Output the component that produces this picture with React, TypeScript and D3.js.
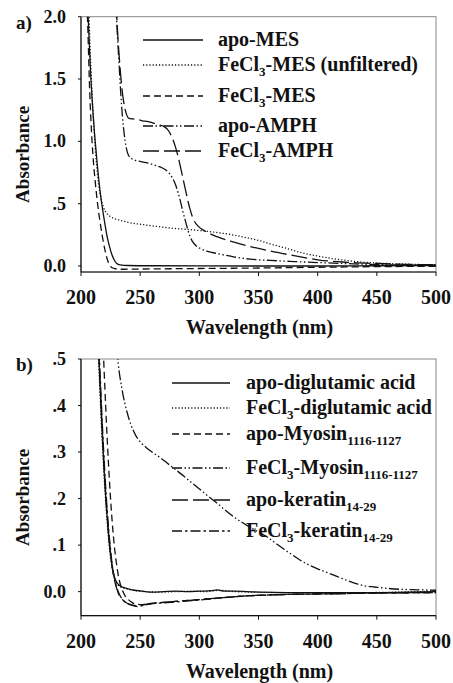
import React from "react";
import * as d3 from "d3";

// panel a) series, [wavelength nm, absorbance]
const apoMES = [[205.5,2.1],[206.5,1.9],[208,1.57],[210,1.25],[212,1.0],[214,0.79],[216,0.61],[218,0.47],[220,0.35],[222,0.24],[224,0.16],[226,0.095],[228,0.05],[230,0.022],[233,0.009],[240,0.004],[260,0.002],[300,0.001],[350,0.0],[400,0.0],[450,0.002],[500,0.004]];
const fecl3MESUnfiltered = [[206.5,2.1],[207.5,1.8],[209,1.45],[211,1.1],[213,0.83],[215,0.65],[217,0.54],[219,0.47],[222,0.42],[226,0.39],[232,0.37],[240,0.35],[250,0.335],[262,0.32],[275,0.305],[288,0.295],[300,0.285],[312,0.272],[325,0.255],[337,0.233],[350,0.205],[362,0.172],[375,0.138],[387,0.105],[400,0.08],[412,0.06],[425,0.044],[437,0.032],[450,0.024],[462,0.019],[475,0.015],[487,0.012],[500,0.011]];
const fecl3MES = [[205,2.1],[205.8,1.9],[207,1.5],[208.5,1.15],[210,0.9],[212,0.68],[214,0.5],[216,0.36],[218,0.24],[220,0.14],[222,0.06],[224,0.01],[226,-0.012],[229,-0.022],[235,-0.026],[250,-0.024],[275,-0.022],[300,-0.02],[350,-0.016],[400,-0.01],[450,-0.005],[500,-0.002]];
const apoAMPH = [[229.5,2.1],[230.5,1.9],[232,1.65],[233.5,1.4],[235,1.2],[236.5,1.06],[238,0.96],[240,0.89],[243,0.86],[247,0.845],[255,0.83],[262,0.81],[268,0.79],[273,0.76],[277,0.71],[280,0.65],[282,0.59],[284,0.52],[286,0.44],[288,0.37],[290,0.3],[292,0.24],[294,0.2],[297,0.165],[301,0.14],[307,0.118],[315,0.1],[330,0.072],[343,0.055],[360,0.045],[380,0.036],[400,0.028],[425,0.019],[450,0.012],[475,0.008],[500,0.006]];
const fecl3AMPH = [[229.8,2.1],[230.8,1.9],[232.3,1.68],[234,1.48],[236,1.32],[238,1.23],[240.5,1.185],[244,1.18],[248,1.175],[252,1.165],[256,1.16],[260,1.15],[265,1.135],[270,1.12],[274,1.085],[277,1.03],[280,0.95],[283,0.84],[286,0.71],[289,0.58],[292,0.46],[295,0.375],[299,0.32],[304,0.285],[315,0.235],[330,0.19],[345,0.152],[360,0.12],[375,0.092],[390,0.066],[400,0.05],[425,0.03],[450,0.02],[475,0.013],[500,0.01]];

// panel b) series
const apoDiglutamic = [[214.8,0.52],[215.8,0.46],[217,0.39],[218.5,0.31],[220,0.24],[221.5,0.18],[223,0.13],[224.5,0.09],[226,0.06],[227.5,0.04],[229,0.026],[231,0.017],[234,0.011],[237,0.008],[240,0.006],[245,0.003],[252,0.001],[260,-0.001],[270,0.0],[280,0.001],[290,0.0],[300,0.001],[310,0.002],[315,0.004],[320,0.001],[330,0.001],[340,0.0],[350,-0.001],[375,-0.002],[400,-0.002],[425,-0.002],[450,-0.002],[475,-0.001],[500,0.0]];
const fecl3Diglutamic = [[214.5,0.52],[215.5,0.46],[216.7,0.39],[218.2,0.31],[219.7,0.24],[221.2,0.18],[222.7,0.13],[224.2,0.09],[225.7,0.06],[227.2,0.04],[228.8,0.026],[230.8,0.016],[233.5,0.01],[237,0.007],[240,0.005],[246,0.002],[255,0.0],[265,-0.001],[280,0.0],[295,0.001],[305,0.0],[318,0.003],[330,0.0],[345,-0.001],[370,-0.002],[400,-0.002],[440,-0.002],[470,-0.001],[500,0.001]];
const apoMyosin = [[218.8,0.52],[219.8,0.46],[221,0.39],[222.5,0.31],[224,0.24],[225.5,0.18],[227,0.13],[228.5,0.09],[230,0.06],[231.5,0.035],[233,0.018],[235,0.003],[237,-0.008],[240,-0.017],[243,-0.023],[247,-0.027],[251,-0.028],[256,-0.026],[265,-0.024],[280,-0.021],[300,-0.017],[325,-0.012],[350,-0.008],[375,-0.006],[400,-0.005],[450,-0.003],[500,-0.002]];
const fecl3Myosin = [[230.5,0.52],[231.5,0.49],[233,0.46],[235,0.43],[237,0.405],[239,0.385],[242,0.36],[246,0.337],[250,0.322],[255,0.31],[260,0.3],[267,0.288],[273,0.276],[280,0.262],[287,0.248],[294,0.233],[301,0.219],[308,0.204],[315,0.19],[322,0.175],[329,0.161],[336,0.149],[343,0.138],[350,0.128],[357,0.118],[364,0.105],[371,0.092],[378,0.08],[385,0.068],[392,0.058],[399,0.05],[406,0.043],[413,0.036],[420,0.029],[427,0.022],[434,0.016],[441,0.012],[448,0.01],[455,0.008],[470,0.005],[485,0.004],[500,0.003]];
const apoKeratin = [[215,0.52],[216,0.46],[217.2,0.39],[218.7,0.31],[220.2,0.24],[221.7,0.18],[223.2,0.13],[224.7,0.09],[226.2,0.055],[228,0.028],[230,0.008],[232,-0.006],[235,-0.017],[239,-0.025],[244,-0.029],[248,-0.031],[252,-0.029],[258,-0.026],[270,-0.023],[285,-0.02],[300,-0.017],[320,-0.013],[340,-0.009],[360,-0.007],[400,-0.005],[450,-0.003],[500,-0.002]];
const fecl3Keratin = [[215.3,0.52],[216.3,0.46],[217.5,0.39],[219,0.31],[220.5,0.24],[222,0.18],[223.5,0.13],[225,0.09],[226.5,0.055],[228.3,0.028],[230.3,0.008],[232.5,-0.006],[235.5,-0.018],[239.5,-0.026],[244,-0.03],[248,-0.032],[252,-0.03],[258,-0.027],[270,-0.024],[285,-0.021],[300,-0.018],[320,-0.013],[340,-0.009],[360,-0.007],[400,-0.005],[450,-0.003],[500,-0.002]];

const xTicks = [200, 250, 300, 350, 400, 450, 500];
const yTicksA = [0, 0.5, 1.0, 1.5, 2.0];
const yTickLabelsA = ["0.0", ".5", "1.0", "1.5", "2.0"];
const yTicksB = [0, 0.1, 0.2, 0.3, 0.4, 0.5];
const yTickLabelsB = ["0.0", ".1", ".2", ".3", ".4", ".5"];

const labelsA = ["apo-MES", "FeCl_{3}-MES (unfiltered)", "FeCl_{3}-MES", "apo-AMPH", "FeCl_{3}-AMPH"];
const labelsB = ["apo-diglutamic acid", "FeCl_{3}-diglutamic acid", "apo-Myosin_{1116-1127}", "FeCl_{3}-Myosin_{1116-1127}", "apo-keratin_{14-29}", "FeCl_{3}-keratin_{14-29}"];

// dash styles
const SOLID = "none";
const DOT = "1.2,2";
const DASH = "7,4";
const DASHDOTDOT = "10,2.5,1.5,2.5,1.5,2.5";
const LONGDASH = "16,5";
const DASHDOT = "10,3,2.5,3";

const FONT = "'Liberation Serif', 'Times New Roman', serif";
const INK = "#111";

function Label({ text, x, y }) {
  const parts = text.split(/_\{([^}]*)\}/);
  return (
    <text x={x} y={y} fontFamily={FONT} fontWeight="bold" fontSize={20} fill={INK}>
      {parts.map((p, i) =>
        i % 2 === 1 ? (
          <tspan key={i} fontSize={13} dy={5}>{p}</tspan>
        ) : (
          <tspan key={i} dy={i === 0 ? 0 : -5}>{p}</tspan>
        )
      )}
    </text>
  );
}

function Panel({ id, tag, top, bottom, yDomain, yTicks, yLabels, series, labels, dashes, legendX, legendRows }) {
  const left = 81, right = 436;
  const x = d3.scaleLinear().domain([200, 500]).range([left, right]);
  const y = d3.scaleLinear().domain(yDomain).range([bottom, top]);
  const line = d3.line().x(d => x(d[0])).y(d => y(d[1])).curve(d3.curveMonotoneX);
  return (
    <g>
      <defs>
        <clipPath id={id}>
          <rect x={left} y={top} width={right - left} height={bottom - top} />
        </clipPath>
      </defs>
      <rect x={left} y={top} width={right - left} height={bottom - top} fill="none" stroke="#888" strokeWidth={1} />
      <g clipPath={`url(#${id})`}>
        {series.map((s, i) => (
          <path key={i} d={line(s)} fill="none" stroke={INK} strokeWidth={1.3} strokeDasharray={dashes[i]} />
        ))}
      </g>
      <line x1={left} x2={left} y1={top} y2={bottom} stroke={INK} strokeWidth={1.2} />
      <line x1={left} x2={right} y1={bottom} y2={bottom} stroke={INK} strokeWidth={1.2} />
      {xTicks.map(t => (
        <g key={t}>
          <line x1={x(t)} x2={x(t)} y1={bottom} y2={bottom + 4} stroke={INK} />
          <text x={x(t)} y={bottom + 32} textAnchor="middle" fontFamily={FONT} fontWeight="bold" fontSize={20} fill={INK}>{t}</text>
        </g>
      ))}
      {yTicks.map((t, i) => (
        <g key={t}>
          <line x1={left - 3} x2={left} y1={y(t)} y2={y(t)} stroke={INK} />
          <text x={66} y={y(t) + 6} textAnchor="end" fontFamily={FONT} fontWeight="bold" fontSize={18} fill={INK}>{yLabels[i]}</text>
        </g>
      ))}
      <text x={(left + right) / 2 + 1} y={bottom + 62} textAnchor="middle" fontFamily={FONT} fontWeight="bold" fontSize={20} fill={INK}>Wavelength (nm)</text>
      <text transform={`translate(29,${(top + bottom) / 2 + 10}) rotate(-90)`} textAnchor="middle" fontFamily={FONT} fontWeight="bold" fontSize={19} fill={INK}>Absorbance</text>
      <text x={16} y={top + 12} fontFamily={FONT} fontWeight="bold" fontSize={19} fill={INK}>{tag}</text>
      {labels.map((lab, i) => (
        <g key={lab}>
          <line x1={legendX[0]} x2={legendX[1]} y1={legendRows[i]} y2={legendRows[i]} stroke={INK} strokeWidth={1.3} strokeDasharray={dashes[i]} />
          <Label text={lab} x={legendX[2]} y={legendRows[i] + 6} />
        </g>
      ))}
    </g>
  );
}

export default function App() {
  return (
    <svg width={453} height={683} style={{ position: "absolute", left: 0, top: 0, background: "#fff" }}>
      <rect width={453} height={683} fill="#fff" />
      <Panel
        id="clipA" tag="a)" top={16.7} bottom={272} yDomain={[-0.048, 2.0]}
        yTicks={yTicksA} yLabels={yTickLabelsA}
        series={[apoMES, fecl3MESUnfiltered, fecl3MES, apoAMPH, fecl3AMPH]}
        labels={labelsA}
        dashes={[SOLID, DOT, DASH, DASHDOTDOT, LONGDASH]}
        legendX={[143, 203, 218]}
        legendRows={[40, 65, 96, 126, 151]}
      />
      <Panel
        id="clipB" tag="b)" top={359} bottom={615.7} yDomain={[-0.0517, 0.5]}
        yTicks={yTicksB} yLabels={yTickLabelsB}
        series={[apoDiglutamic, fecl3Diglutamic, apoMyosin, fecl3Myosin, apoKeratin, fecl3Keratin]}
        labels={labelsB}
        dashes={[SOLID, DOT, DASH, DASHDOTDOT, LONGDASH, DASHDOT]}
        legendX={[172, 230, 246]}
        legendRows={[383, 408, 434, 468, 500, 531]}
      />
    </svg>
  );
}
